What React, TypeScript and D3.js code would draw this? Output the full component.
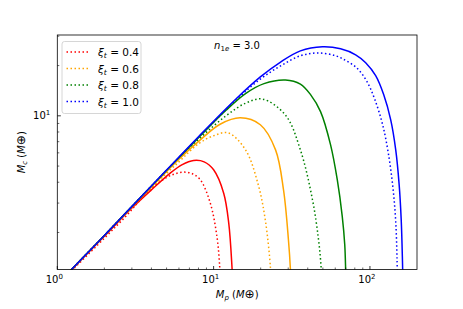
import React from "react";
import * as d3 from "d3";

// ξt values for the legend / series
const xiValues = ["0.4", "0.6", "0.8", "1.0"];
const colors = ["#ff0000", "#ffa500", "#008000", "#0000ff"];

// solid curves: [Mp, Mc]
const solid04 = [[1, 0.98], [2, 1.9], [3, 2.8], [4, 3.6], [5.28, 4.54], [6.3, 5.1], [7.44, 5.4], [8.7, 5.3], [10, 4.75], [11.6, 3.44], [12.5, 2.27], [13.1, 1.25], [13.3, 0.9]];
const solid06 = [[1, 0.98], [2, 1.92], [4, 3.75], [6, 5.5], [8.22, 7.18], [11, 8.9], [14.8, 9.73], [19.9, 8.84], [24.9, 6.25], [28, 3.6], [30.1, 1.81], [31, 1.2], [31.3, 0.9]];
const solid08 = [[1, 0.98], [2, 1.92], [4, 3.8], [8, 7.4], [12, 10.8], [16, 13.6], [21, 15.6], [28.8, 16.4], [35.9, 15.5], [41.7, 13.4], [48.3, 10.6], [56, 6.7], [61.8, 4.14], [66.5, 2.5], [69, 1.69], [69.9, 1.2], [70.3, 0.91]];
const solid10 = [[1, 0.98], [2, 1.92], [4, 3.8], [8, 7.5], [14, 12.7], [19.9, 17.1], [26.8, 21], [35.9, 24.5], [49.7, 25.9], [64.9, 25.2], [81, 23.2], [93.9, 20.8], [108.8, 17.4], [122.4, 13.4], [135.8, 9.46], [146.2, 6.25], [153.8, 3.86], [158.5, 2.38], [161.4, 1.37], [162.8, 0.91]];

// dotted curves: [Mp, Mc]
const dotted04 = [[1, 0.97], [2, 1.85], [2.8, 2.55], [3.56, 3.29], [4.55, 4.04], [5.5, 4.45], [6.42, 4.6], [7.3, 4.5], [8.22, 4.14], [9.52, 3.0], [10.5, 1.89], [10.9, 1.31], [11.1, 0.9]];
const dotted06 = [[1, 0.98], [2, 1.9], [4, 3.7], [6, 5.3], [8, 6.8], [10, 7.6], [12.4, 7.9], [16, 6.25], [19.3, 3.86], [21.4, 2.38], [23.1, 1.23], [23.4, 0.9]];
const dotted08 = [[1, 0.98], [2, 1.92], [4, 3.75], [8, 7.2], [12, 10], [16, 11.9], [20.5, 12.6], [28.8, 10.1], [35.9, 6.25], [42.9, 3.14], [46.9, 1.81], [48.8, 1.2], [49.2, 0.9]];
const dotted10 = [[1, 0.98], [2, 1.92], [4, 3.8], [8, 7.4], [14, 12.5], [19.9, 16.6], [26.8, 19.9], [35.9, 22.9], [46.9, 23.8], [60.3, 22.9], [70.9, 21.3], [82.2, 19.4], [95.2, 16.2], [107.2, 12.6], [120.6, 8.84], [131.6, 5.84], [140.8, 3.6], [146.2, 2.32], [149, 1.41], [150, 0.91]];

const solidSeries = [solid04, solid06, solid08, solid10];
const dottedSeries = [dotted04, dotted06, dotted08, dotted10];

const xMajor = [1, 10, 100];
const xMajorExp = ["0", "1", "2"];
const xMinor = [2, 3, 4, 5, 6, 7, 8, 9, 20, 30, 40, 50, 60, 70, 80, 90];
const yMajor = [10];
const yMajorExp = ["1"];
const yMinor = [2, 3, 4, 5, 6, 7, 8, 9, 20, 30];

const W = 463;
const H = 309;
const margin = { top: 35, right: 46, bottom: 39.5, left: 57.3 };

const App = () => {
  const x = d3.scaleLog().domain([1, 200]).range([margin.left, W - margin.right]);
  const y = d3.scaleLog().domain([1.2, 30.5]).range([H - margin.bottom, margin.top]);
  const line = d3
    .line<number[]>()
    .x((d) => x(d[0]))
    .y((d) => y(d[1]))
    .curve(d3.curveCatmullRom.alpha(0.5));

  const x0 = margin.left;
  const x1 = W - margin.right;
  const y0 = H - margin.bottom;
  const y1 = margin.top;
  const font = "DejaVu Sans, sans-serif";

  return (
    <svg width={W} height={H} style={{ position: "absolute", left: 0, top: 0, background: "#fff" }} fontFamily={font}>
      <defs>
        <clipPath id="plot">
          <rect x={x0} y={y1} width={x1 - x0} height={y0 - y1} />
        </clipPath>
      </defs>
      <g clipPath="url(#plot)">
        {dottedSeries.map((s, i) => (
          <path key={"d" + i} d={line(s) || ""} fill="none" stroke={colors[i]} strokeWidth={1.5} strokeDasharray="1.5,2.5" />
        ))}
        {solidSeries.map((s, i) => (
          <path key={"s" + i} d={line(s) || ""} fill="none" stroke={colors[i]} strokeWidth={1.5} />
        ))}
      </g>
      {/* ticks, pointing inward */}
      {xMajor.map((v) => (
        <line key={"xM" + v} x1={x(v)} x2={x(v)} y1={y0} y2={y0 - 3.5} stroke="#000" strokeWidth={0.8} />
      ))}
      {xMinor.map((v) => (
        <line key={"xm" + v} x1={x(v)} x2={x(v)} y1={y0} y2={y0 - 2} stroke="#000" strokeWidth={0.6} />
      ))}
      {yMajor.map((v) => (
        <line key={"yM" + v} x1={x0} x2={x0 + 3.5} y1={y(v)} y2={y(v)} stroke="#000" strokeWidth={0.8} />
      ))}
      {yMinor.map((v) => (
        <line key={"ym" + v} x1={x0} x2={x0 + 2} y1={y(v)} y2={y(v)} stroke="#000" strokeWidth={0.6} />
      ))}
      <rect x={x0} y={y1} width={x1 - x0} height={y0 - y1} fill="none" stroke="#000" strokeWidth={0.8} />
      {xMajor.map((v, i) => (
        <text key={"xl" + v} x={x(v) - 3} y={y0 + 13} fontSize={10} textAnchor="middle">
          10<tspan dy={-4} fontSize={7}>{xMajorExp[i]}</tspan>
        </text>
      ))}
      {yMajor.map((v, i) => (
        <text key={"yl" + v} x={x0 - 7} y={y(v) + 3.5} fontSize={10} textAnchor="end">
          10<tspan dy={-4} fontSize={7}>{yMajorExp[i]}</tspan>
        </text>
      ))}
      {/* axis labels */}
      <text x={(x0 + x1) / 2} y={H - 11} fontSize={10} textAnchor="middle">
        <tspan fontStyle="italic">M</tspan>
        <tspan fontStyle="italic" fontSize={7} dy={2}>p</tspan>
        <tspan dy={-2}> (</tspan>
        <tspan fontStyle="italic">M</tspan>
        <tspan fontSize={12}>⊕</tspan>
        <tspan>)</tspan>
      </text>
      <text transform={`translate(25,${(y0 + y1) / 2}) rotate(-90)`} fontSize={10} textAnchor="middle">
        <tspan fontStyle="italic">M</tspan>
        <tspan fontStyle="italic" fontSize={7} dy={2}>c</tspan>
        <tspan dy={-2}> (</tspan>
        <tspan fontStyle="italic">M</tspan>
        <tspan fontSize={12}>⊕</tspan>
        <tspan>)</tspan>
      </text>
      {/* annotation */}
      <text x={237} y={49} fontSize={10} textAnchor="middle">
        <tspan fontStyle="italic">n</tspan>
        <tspan fontSize={7} dy={2}>1</tspan>
        <tspan fontSize={7} fontStyle="italic">e</tspan>
        <tspan dy={-2}> = 3.0</tspan>
      </text>
      {/* legend */}
      <rect x={62} y={41.5} width={79} height={72} rx={2.5} fill="#fff" fillOpacity={0.8} stroke="#cccccc" strokeWidth={0.8} />
      {xiValues.map((v, i) => {
        const ly = 52 + i * 16.5;
        return (
          <g key={"lg" + v}>
            <line x1={66.5} x2={88.5} y1={ly} y2={ly} stroke={colors[i]} strokeWidth={1.5} strokeDasharray="1.5,2.5" />
            <text x={98} y={ly + 4} fontSize={10.5}>
              <tspan fontStyle="italic">ξ</tspan>
              <tspan fontStyle="italic" fontSize={7.5} dy={2}>t</tspan>
              <tspan dy={-2}> = {v}</tspan>
            </text>
          </g>
        );
      })}
    </svg>
  );
};

export default App;
